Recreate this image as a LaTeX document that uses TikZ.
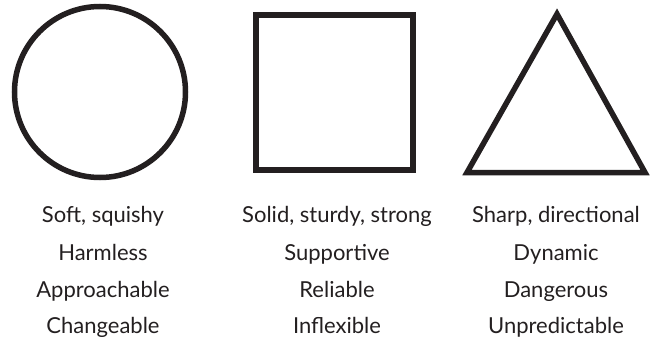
\documentclass[tikz,border=0pt]{standalone}
\usepackage{fontspec}
\setmainfont{Lato}
\definecolor{ink}{HTML}{231F20}

\begin{document}
\begin{tikzpicture}[x=1pt, y=-1pt, font=\fontsize{22}{25}\selectfont, text=ink,
  shape line/.style={draw=ink, line width=5.5pt, line join=miter},
  word/.style={anchor=base, inner sep=0pt}]

\useasboundingbox (0,0) rectangle (650,340);

\draw[shape line] (100,92) circle (85.5);
\draw[shape line] (256,15) rectangle (413,170);
\draw[shape line] (557,14) -- (645,172.5) -- (467,172.5) -- cycle;

\node[word] (soft) at (103,222) {Soft, squishy};
\node[word] (harmless) at (103,260) {Harmless};
\node[word] (approach) at (103,297) {Approachable};
\node[word] (change) at (103,333) {Changeable};

\node[word] (solid) at (337,222) {Solid, sturdy, strong};
\node[word] (support) at (337,260) {Supportive};
\node[word] (reliable) at (337,297) {Reliable};
\node[word] (inflex) at (337,333) {Inflexible};

\node[word] (sharp) at (556,222) {Sharp, directional};
\node[word] (dynamic) at (556,260) {Dynamic};
\node[word] (danger) at (556,297) {Dangerous};
\node[word] (unpred) at (556,333) {Unpredictable};

\end{tikzpicture}
\end{document}
